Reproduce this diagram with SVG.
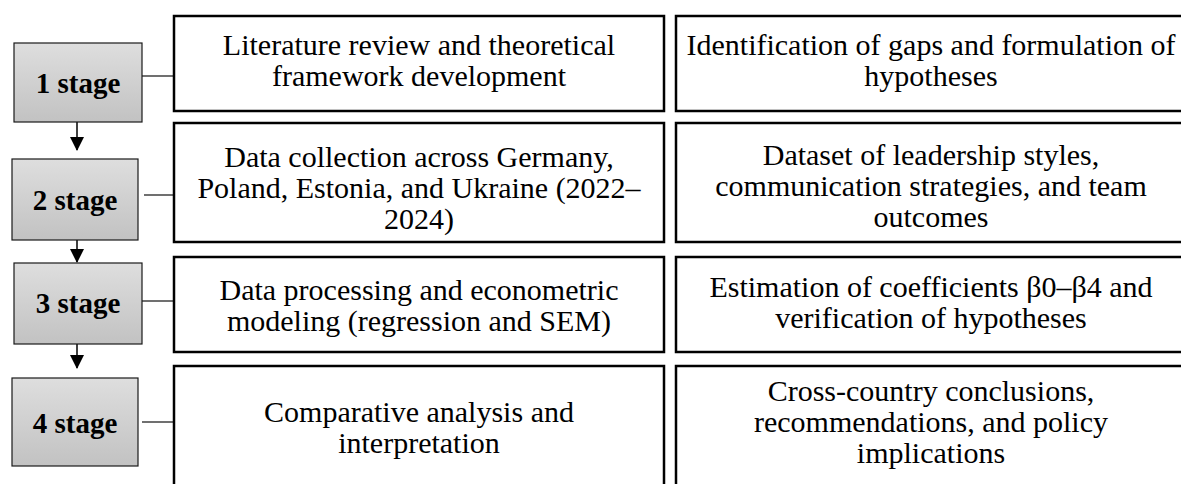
<svg xmlns="http://www.w3.org/2000/svg" width="1181" height="484" viewBox="0 0 1181 484">
  <style>
    .stage { stroke: #1a1a1a; stroke-width: 1.2; fill: url(#stageFill); }
    .stage-label { font-family: "Liberation Serif", "Times New Roman", serif; font-weight: bold; font-size: 29px; fill: #000; text-anchor: middle; }
    .box { fill: #fff; stroke: #000; stroke-width: 2.5; }
    .box-text { font-family: "Liberation Serif", "Times New Roman", serif; font-size: 30px; fill: #000; text-anchor: middle; }
    .link { stroke: #404040; stroke-width: 1.5; fill: none; }
    .flow { stroke: #000; stroke-width: 1.5; fill: none; marker-end: url(#arrowHead); }
  </style>
  <defs>
    <linearGradient id="stageFill" x1="0" y1="0" x2="0" y2="1">
      <stop offset="0" stop-color="#dedede"/>
      <stop offset="1" stop-color="#c2c2c2"/>
    </linearGradient>
    <marker id="arrowHead" markerUnits="userSpaceOnUse" markerWidth="14" markerHeight="14" refX="13" refY="7" orient="auto">
      <path d="M0,0 L14,7 L0,14 Z" fill="#000"/>
    </marker>
  </defs>
  <rect width="1181" height="484" fill="#fff"/>

  <!-- connectors: stage-to-stage arrows and stage-to-row links -->
  <g id="connectors">
    <line class="flow" x1="77" y1="122" x2="77" y2="150"/>
    <line class="flow" x1="77" y1="240" x2="77" y2="262"/>
    <line class="flow" x1="77" y1="344" x2="77" y2="368"/>
    <line class="link" x1="142" y1="76" x2="174" y2="76"/>
    <line class="link" x1="144" y1="195" x2="174" y2="195"/>
    <line class="link" x1="138" y1="301" x2="174" y2="301"/>
    <line class="link" x1="142" y1="422" x2="174" y2="422"/>
  </g>

  <!-- stage 1 -->
  <g id="stage1">
    <rect class="stage" x="14" y="43" width="128" height="79"/>
    <text class="stage-label" x="78" y="93">1 stage</text>
  </g>
  <g id="stage1-task">
    <rect class="box" x="174" y="16" width="490" height="95"/>
    <text class="box-text" x="419" y="55">Literature review and theoretical</text>
    <text class="box-text" x="419" y="86">framework development</text>
  </g>
  <g id="stage1-result">
    <rect class="box" x="676" y="16" width="520" height="95"/>
    <text class="box-text" x="931" y="55">Identification of gaps and formulation of</text>
    <text class="box-text" x="931" y="86">hypotheses</text>
  </g>

  <!-- stage 2 -->
  <g id="stage2">
    <rect class="stage" x="12" y="159" width="126" height="81"/>
    <text class="stage-label" x="75" y="210">2 stage</text>
  </g>
  <g id="stage2-task">
    <rect class="box" x="174" y="123" width="490" height="119"/>
    <text class="box-text" x="419" y="167">Data collection across Germany,</text>
    <text class="box-text" x="419" y="198">Poland, Estonia, and Ukraine (2022–</text>
    <text class="box-text" x="419" y="229">2024)</text>
  </g>
  <g id="stage2-result">
    <rect class="box" x="676" y="123" width="520" height="119"/>
    <text class="box-text" x="931" y="165">Dataset of leadership styles,</text>
    <text class="box-text" x="931" y="196">communication strategies, and team</text>
    <text class="box-text" x="931" y="227">outcomes</text>
  </g>

  <!-- stage 3 -->
  <g id="stage3">
    <rect class="stage" x="14" y="263" width="128" height="81"/>
    <text class="stage-label" x="78" y="313">3 stage</text>
  </g>
  <g id="stage3-task">
    <rect class="box" x="174" y="257" width="490" height="95"/>
    <text class="box-text" x="419" y="300">Data processing and econometric</text>
    <text class="box-text" x="419" y="331">modeling (regression and SEM)</text>
  </g>
  <g id="stage3-result">
    <rect class="box" x="676" y="257" width="520" height="95"/>
    <text class="box-text" x="931" y="297">Estimation of coefficients β0–β4 and</text>
    <text class="box-text" x="931" y="328">verification of hypotheses</text>
  </g>

  <!-- stage 4 -->
  <g id="stage4">
    <rect class="stage" x="12" y="378" width="126" height="88"/>
    <text class="stage-label" x="75" y="433">4 stage</text>
  </g>
  <g id="stage4-task">
    <rect class="box" x="174" y="366" width="490" height="130"/>
    <text class="box-text" x="419" y="422">Comparative analysis and</text>
    <text class="box-text" x="419" y="453">interpretation</text>
  </g>
  <g id="stage4-result">
    <rect class="box" x="676" y="366" width="520" height="130"/>
    <text class="box-text" x="931" y="401">Cross-country conclusions,</text>
    <text class="box-text" x="931" y="432">recommendations, and policy</text>
    <text class="box-text" x="931" y="463">implications</text>
  </g>
</svg>
